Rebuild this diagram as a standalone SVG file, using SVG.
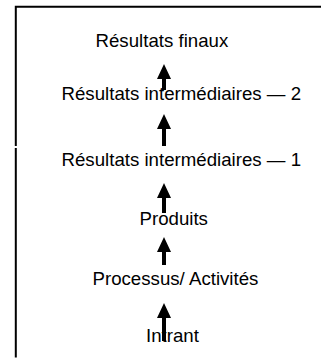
<svg xmlns="http://www.w3.org/2000/svg" width="321" height="358" viewBox="0 0 321 358">
<defs>
<style>
.lbl{font-family:"Liberation Sans",Arial,sans-serif;font-size:18.67px;fill:#000}
.frame{stroke:#000;stroke-width:2;fill:none}
.arr{stroke:#000;stroke-width:4;fill:none}
</style>
<marker id="ah" markerUnits="userSpaceOnUse" markerWidth="15" markerHeight="14" refX="0" refY="7" orient="auto" viewBox="0 0 15 14">
<path d="M0,0 L15,7 L0,14 z" fill="#000"/>
</marker>
</defs>
<rect width="321" height="358" fill="#fff"/>
<g id="frame">
<path class="frame" d="M15.8,357.5 V148 M15.8,146 V6.7 H321"/>
</g>
<g id="n1"><text class="lbl" x="95.5" y="47">Résultats finaux</text></g>
<g id="n2"><text class="lbl" x="61.5" y="99.5">Résultats intermédiaires — 2</text></g>
<g id="n3"><text class="lbl" x="61.5" y="166">Résultats intermédiaires — 1</text></g>
<g id="n4"><text class="lbl" x="139.5" y="225">Produits</text></g>
<g id="n5"><text class="lbl" x="92.5" y="284.5">Processus/ Activités</text></g>
<g id="n6"><text class="lbl" x="146" y="342">Intrant</text></g>
<g id="connectors">
<line class="arr" x1="164" y1="90" x2="164" y2="79" marker-end="url(#ah)"/>
<line class="arr" x1="164" y1="146" x2="164" y2="129" marker-end="url(#ah)"/>
<line class="arr" x1="164" y1="213" x2="164" y2="198" marker-end="url(#ah)"/>
<line class="arr" x1="164" y1="265" x2="164" y2="252" marker-end="url(#ah)"/>
<line class="arr" x1="164" y1="341" x2="164" y2="318" marker-end="url(#ah)"/>
</g>
</svg>
